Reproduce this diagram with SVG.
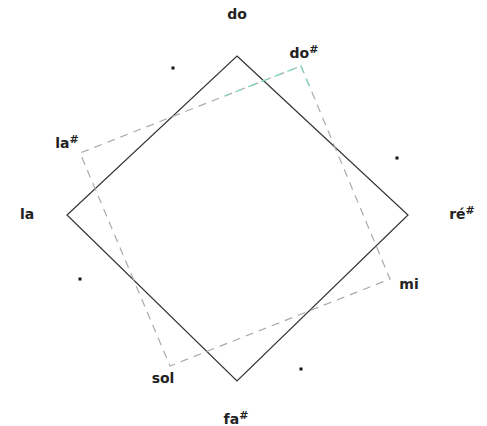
<svg xmlns="http://www.w3.org/2000/svg" width="487" height="426" viewBox="0 0 487 426">
<style>
text{font-family:"DejaVu Sans","Liberation Sans",sans-serif;font-size:14px;font-weight:bold;fill:#222;text-anchor:middle}
.sh{font-size:11px}
.sq{fill:none;stroke:#333;stroke-width:1.2}
.ds{fill:none;stroke:#aaa;stroke-width:1.2;stroke-dasharray:8,6}
.tl{fill:none;stroke:#7fd8c0;stroke-width:1.2;stroke-dasharray:8,6}
</style>
<rect width="487" height="426" fill="#fff"/>
<g id="connectors">
<polygon class="sq" points="237,56 408,215 237,381 67,215"/>
<polygon class="ds" points="301,66 390,279 170,366 80,153"/>
<polyline class="tl" points="225,96 301,66 310,88" stroke-dashoffset="3"/>
</g>
<g id="dots" fill="#111">
<rect x="171.5" y="66.5" width="3" height="3"/>
<rect x="395.5" y="156.5" width="3" height="3"/>
<rect x="78.5" y="277.5" width="3" height="3"/>
<rect x="299.5" y="367.5" width="3" height="3"/>
</g>
<g id="n-do"><text x="237" y="19">do</text></g>
<g id="n-dos"><text x="304" y="58">do<tspan class="sh" dy="-5">#</tspan></text></g>
<g id="n-las"><text x="67" y="148">la<tspan class="sh" dy="-5">#</tspan></text></g>
<g id="n-la"><text x="27" y="219">la</text></g>
<g id="n-res"><text x="462" y="219">ré<tspan class="sh" dy="-5">#</tspan></text></g>
<g id="n-mi"><text x="409" y="289">mi</text></g>
<g id="n-sol"><text x="163" y="383">sol</text></g>
<g id="n-fas"><text x="236" y="424">fa<tspan class="sh" dy="-5">#</tspan></text></g>
</svg>
